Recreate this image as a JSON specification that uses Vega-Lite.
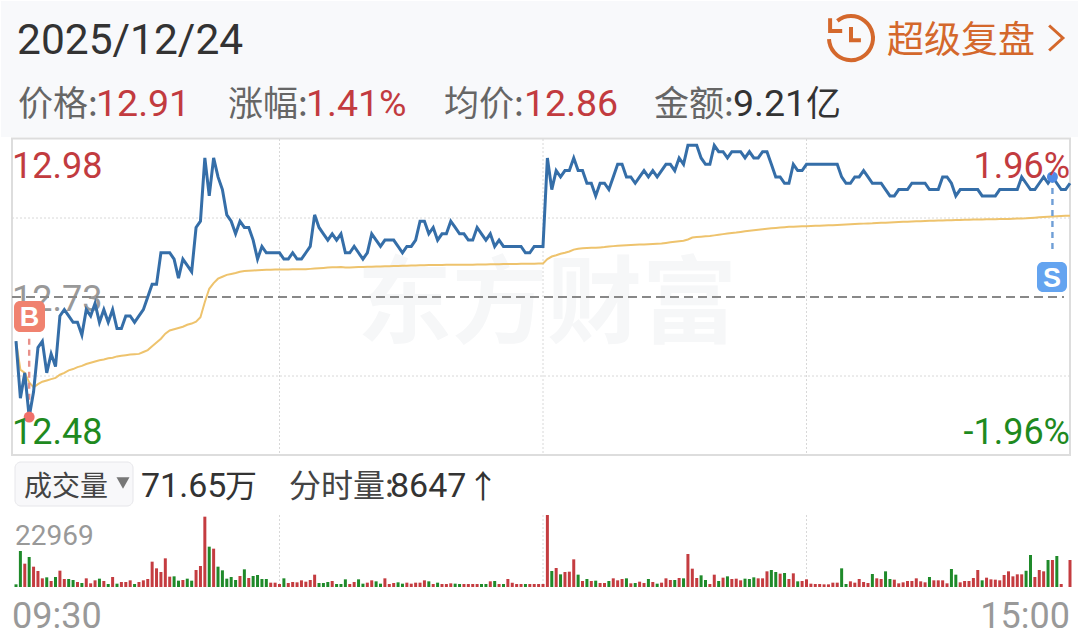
{"$schema":"https://vega.github.io/schema/vega-lite/v6.json","width":1078,"height":644,"padding":0,"autosize":{"type":"fit","contains":"padding"},"background":"#ffffff","config":{"view":{"stroke":null},"text":{"font":"Roboto","align":"left","baseline":"alphabetic"}},
"datasets":{"minutes":[
{"m":0,"price":12.66,"avg":12.66,"vol":851,"dir":"down"},{"m":1,"price":12.57,"avg":12.615,"vol":11484,"dir":"down"},{"m":2,"price":12.61,"avg":12.61,"vol":7443,"dir":"up"},{"m":3,"price":12.54,"avg":12.595,"vol":9570,"dir":"down"},{"m":4,"price":12.58,"avg":12.587,"vol":6486,"dir":"up"},{"m":5,"price":12.65,"avg":12.592,"vol":5104,"dir":"up"},{"m":6,"price":12.66,"avg":12.596,"vol":2765,"dir":"up"},{"m":7,"price":12.61,"avg":12.598,"vol":3084,"dir":"down"},{"m":8,"price":12.64,"avg":12.6,"vol":1914,"dir":"up"},{"m":9,"price":12.62,"avg":12.602,"vol":3190,"dir":"down"},
{"m":10,"price":12.7,"avg":12.607,"vol":5210,"dir":"up"},{"m":11,"price":12.71,"avg":12.61,"vol":2552,"dir":"up"},{"m":12,"price":12.7,"avg":12.614,"vol":2552,"dir":"down"},{"m":13,"price":12.69,"avg":12.616,"vol":2233,"dir":"down"},{"m":14,"price":12.69,"avg":12.619,"vol":1595,"dir":"up"},{"m":15,"price":12.67,"avg":12.621,"vol":1276,"dir":"down"},{"m":16,"price":12.71,"avg":12.624,"vol":2765,"dir":"up"},{"m":17,"price":12.7,"avg":12.626,"vol":1169,"dir":"up"},{"m":18,"price":12.72,"avg":12.628,"vol":2127,"dir":"up"},{"m":19,"price":12.69,"avg":12.63,"vol":2658,"dir":"down"},
{"m":20,"price":12.71,"avg":12.631,"vol":1914,"dir":"up"},{"m":21,"price":12.69,"avg":12.633,"vol":957,"dir":"down"},{"m":22,"price":12.71,"avg":12.634,"vol":3190,"dir":"up"},{"m":23,"price":12.68,"avg":12.636,"vol":1063,"dir":"down"},{"m":24,"price":12.68,"avg":12.637,"vol":1595,"dir":"up"},{"m":25,"price":12.7,"avg":12.638,"vol":1595,"dir":"up"},{"m":26,"price":12.7,"avg":12.639,"vol":2127,"dir":"up"},{"m":27,"price":12.69,"avg":12.6395,"vol":957,"dir":"down"},{"m":28,"price":12.7,"avg":12.64,"vol":1595,"dir":"up"},{"m":29,"price":12.71,"avg":12.643,"vol":2127,"dir":"up"},
{"m":30,"price":12.73,"avg":12.646,"vol":2552,"dir":"up"},{"m":31,"price":12.75,"avg":12.652,"vol":8081,"dir":"up"},{"m":32,"price":12.75,"avg":12.658,"vol":5955,"dir":"up"},{"m":33,"price":12.8,"avg":12.664,"vol":4785,"dir":"up"},{"m":34,"price":12.8,"avg":12.672,"vol":9144,"dir":"up"},{"m":35,"price":12.8,"avg":12.677,"vol":3296,"dir":"up"},{"m":36,"price":12.79,"avg":12.679,"vol":3403,"dir":"down"},{"m":37,"price":12.76,"avg":12.681,"vol":2020,"dir":"down"},{"m":38,"price":12.79,"avg":12.683,"vol":2233,"dir":"up"},{"m":39,"price":12.78,"avg":12.686,"vol":2658,"dir":"down"},
{"m":40,"price":12.77,"avg":12.688,"vol":2020,"dir":"down"},{"m":41,"price":12.84,"avg":12.691,"vol":5423,"dir":"up"},{"m":42,"price":12.85,"avg":12.698,"vol":6699,"dir":"up"},{"m":43,"price":12.95,"avg":12.722,"vol":22437,"dir":"up"},{"m":44,"price":12.89,"avg":12.743,"vol":12866,"dir":"down"},{"m":45,"price":12.95,"avg":12.752,"vol":12229,"dir":"up"},{"m":46,"price":12.92,"avg":12.759,"vol":6486,"dir":"down"},{"m":47,"price":12.9,"avg":12.762,"vol":5317,"dir":"down"},{"m":48,"price":12.86,"avg":12.765,"vol":2658,"dir":"down"},{"m":49,"price":12.85,"avg":12.7665,"vol":3190,"dir":"down"},
{"m":50,"price":12.83,"avg":12.768,"vol":2233,"dir":"down"},{"m":51,"price":12.85,"avg":12.77,"vol":3509,"dir":"up"},{"m":52,"price":12.84,"avg":12.771,"vol":5636,"dir":"down"},{"m":53,"price":12.84,"avg":12.7715,"vol":2871,"dir":"up"},{"m":54,"price":12.82,"avg":12.772,"vol":3509,"dir":"down"},{"m":55,"price":12.79,"avg":12.7725,"vol":3828,"dir":"down"},{"m":56,"price":12.81,"avg":12.7728,"vol":2552,"dir":"down"},{"m":57,"price":12.8,"avg":12.773,"vol":2552,"dir":"down"},{"m":58,"price":12.8,"avg":12.7732,"vol":1382,"dir":"up"},{"m":59,"price":12.8,"avg":12.7734,"vol":1382,"dir":"up"},
{"m":60,"price":12.8,"avg":12.7735,"vol":957,"dir":"up"},{"m":61,"price":12.79,"avg":12.7736,"vol":2765,"dir":"down"},{"m":62,"price":12.79,"avg":12.7737,"vol":1276,"dir":"up"},{"m":63,"price":12.8,"avg":12.7738,"vol":1595,"dir":"up"},{"m":64,"price":12.79,"avg":12.7739,"vol":1489,"dir":"up"},{"m":65,"price":12.79,"avg":12.774,"vol":2127,"dir":"up"},{"m":66,"price":12.8,"avg":12.774,"vol":1701,"dir":"up"},{"m":67,"price":12.81,"avg":12.7745,"vol":2233,"dir":"up"},{"m":68,"price":12.86,"avg":12.775,"vol":3934,"dir":"up"},{"m":69,"price":12.84,"avg":12.7755,"vol":1276,"dir":"down"},
{"m":70,"price":12.83,"avg":12.776,"vol":1276,"dir":"down"},{"m":71,"price":12.82,"avg":12.7765,"vol":1595,"dir":"down"},{"m":72,"price":12.83,"avg":12.777,"vol":1914,"dir":"up"},{"m":73,"price":12.82,"avg":12.7772,"vol":957,"dir":"down"},{"m":74,"price":12.83,"avg":12.7774,"vol":957,"dir":"down"},{"m":75,"price":12.8,"avg":12.7765,"vol":2446,"dir":"down"},{"m":76,"price":12.8,"avg":12.7768,"vol":957,"dir":"up"},{"m":77,"price":12.81,"avg":12.777,"vol":1595,"dir":"up"},{"m":78,"price":12.8,"avg":12.7773,"vol":2446,"dir":"down"},{"m":79,"price":12.79,"avg":12.7775,"vol":1063,"dir":"down"},
{"m":80,"price":12.8,"avg":12.7778,"vol":1382,"dir":"up"},{"m":81,"price":12.83,"avg":12.778,"vol":2127,"dir":"up"},{"m":82,"price":12.82,"avg":12.7782,"vol":1808,"dir":"down"},{"m":83,"price":12.81,"avg":12.7784,"vol":1063,"dir":"down"},{"m":84,"price":12.82,"avg":12.7786,"vol":2765,"dir":"up"},{"m":85,"price":12.82,"avg":12.7788,"vol":957,"dir":"up"},{"m":86,"price":12.82,"avg":12.779,"vol":1276,"dir":"up"},{"m":87,"price":12.81,"avg":12.7792,"vol":1489,"dir":"down"},{"m":88,"price":12.8,"avg":12.7794,"vol":1063,"dir":"down"},{"m":89,"price":12.81,"avg":12.7796,"vol":1382,"dir":"up"},
{"m":90,"price":12.81,"avg":12.7798,"vol":1063,"dir":"up"},{"m":91,"price":12.82,"avg":12.78,"vol":1382,"dir":"up"},{"m":92,"price":12.85,"avg":12.7802,"vol":1382,"dir":"up"},{"m":93,"price":12.85,"avg":12.7804,"vol":2127,"dir":"up"},{"m":94,"price":12.83,"avg":12.7805,"vol":1808,"dir":"down"},{"m":95,"price":12.84,"avg":12.7806,"vol":957,"dir":"up"},{"m":96,"price":12.82,"avg":12.7807,"vol":1382,"dir":"down"},{"m":97,"price":12.83,"avg":12.7808,"vol":957,"dir":"up"},{"m":98,"price":12.83,"avg":12.7809,"vol":957,"dir":"up"},{"m":99,"price":12.85,"avg":12.781,"vol":1169,"dir":"up"},
{"m":100,"price":12.84,"avg":12.781,"vol":1063,"dir":"down"},{"m":101,"price":12.83,"avg":12.781,"vol":957,"dir":"down"},{"m":102,"price":12.83,"avg":12.781,"vol":957,"dir":"up"},{"m":103,"price":12.82,"avg":12.7811,"vol":957,"dir":"up"},{"m":104,"price":12.82,"avg":12.7812,"vol":957,"dir":"up"},{"m":105,"price":12.84,"avg":12.7813,"vol":957,"dir":"up"},{"m":106,"price":12.83,"avg":12.7814,"vol":957,"dir":"down"},{"m":107,"price":12.82,"avg":12.7815,"vol":957,"dir":"down"},{"m":108,"price":12.83,"avg":12.7817,"vol":1808,"dir":"up"},{"m":109,"price":12.81,"avg":12.7819,"vol":1914,"dir":"down"},
{"m":110,"price":12.82,"avg":12.782,"vol":957,"dir":"up"},{"m":111,"price":12.81,"avg":12.7821,"vol":957,"dir":"down"},{"m":112,"price":12.81,"avg":12.7822,"vol":2552,"dir":"up"},{"m":113,"price":12.81,"avg":12.7823,"vol":1382,"dir":"up"},{"m":114,"price":12.81,"avg":12.7824,"vol":957,"dir":"up"},{"m":115,"price":12.81,"avg":12.7825,"vol":957,"dir":"up"},{"m":116,"price":12.8,"avg":12.7826,"vol":957,"dir":"down"},{"m":117,"price":12.8,"avg":12.7827,"vol":957,"dir":"up"},{"m":118,"price":12.81,"avg":12.7828,"vol":957,"dir":"up"},{"m":119,"price":12.81,"avg":12.7829,"vol":957,"dir":"up"},
{"m":120,"price":12.81,"avg":12.783,"vol":957,"dir":"up"},{"m":121,"price":12.95,"avg":12.79,"vol":22969,"dir":"up"},{"m":122,"price":12.9,"avg":12.794,"vol":5104,"dir":"down"},{"m":123,"price":12.93,"avg":12.796,"vol":6061,"dir":"up"},{"m":124,"price":12.92,"avg":12.7985,"vol":4041,"dir":"down"},{"m":125,"price":12.93,"avg":12.8,"vol":4785,"dir":"up"},{"m":126,"price":12.93,"avg":12.802,"vol":4891,"dir":"up"},{"m":127,"price":12.95,"avg":12.805,"vol":8826,"dir":"up"},{"m":128,"price":12.93,"avg":12.8065,"vol":3934,"dir":"down"},{"m":129,"price":12.93,"avg":12.8072,"vol":1914,"dir":"up"},
{"m":130,"price":12.91,"avg":12.8075,"vol":2552,"dir":"down"},{"m":131,"price":12.91,"avg":12.8078,"vol":1914,"dir":"up"},{"m":132,"price":12.89,"avg":12.808,"vol":2020,"dir":"down"},{"m":133,"price":12.91,"avg":12.8085,"vol":1276,"dir":"up"},{"m":134,"price":12.91,"avg":12.809,"vol":1276,"dir":"up"},{"m":135,"price":12.9,"avg":12.81,"vol":1914,"dir":"down"},{"m":136,"price":12.92,"avg":12.8105,"vol":2765,"dir":"up"},{"m":137,"price":12.94,"avg":12.811,"vol":2127,"dir":"up"},{"m":138,"price":12.94,"avg":12.8115,"vol":2552,"dir":"up"},{"m":139,"price":12.92,"avg":12.812,"vol":2765,"dir":"down"},
{"m":140,"price":12.92,"avg":12.8123,"vol":1169,"dir":"up"},{"m":141,"price":12.91,"avg":12.8126,"vol":1276,"dir":"down"},{"m":142,"price":12.92,"avg":12.8129,"vol":1701,"dir":"up"},{"m":143,"price":12.93,"avg":12.8132,"vol":1276,"dir":"up"},{"m":144,"price":12.92,"avg":12.8135,"vol":2552,"dir":"down"},{"m":145,"price":12.93,"avg":12.8138,"vol":1595,"dir":"up"},{"m":146,"price":12.92,"avg":12.8141,"vol":1063,"dir":"down"},{"m":147,"price":12.93,"avg":12.8145,"vol":1382,"dir":"up"},{"m":148,"price":12.94,"avg":12.8155,"vol":2765,"dir":"up"},{"m":149,"price":12.94,"avg":12.8165,"vol":2233,"dir":"up"},
{"m":150,"price":12.93,"avg":12.8175,"vol":2233,"dir":"down"},{"m":151,"price":12.95,"avg":12.8182,"vol":2871,"dir":"up"},{"m":152,"price":12.94,"avg":12.819,"vol":2765,"dir":"down"},{"m":153,"price":12.97,"avg":12.821,"vol":10527,"dir":"up"},{"m":154,"price":12.97,"avg":12.824,"vol":5848,"dir":"up"},{"m":155,"price":12.97,"avg":12.825,"vol":2871,"dir":"up"},{"m":156,"price":12.95,"avg":12.8255,"vol":3722,"dir":"down"},{"m":157,"price":12.94,"avg":12.826,"vol":2233,"dir":"down"},{"m":158,"price":12.94,"avg":12.8265,"vol":957,"dir":"up"},{"m":159,"price":12.97,"avg":12.8275,"vol":3934,"dir":"up"},
{"m":160,"price":12.96,"avg":12.8285,"vol":1914,"dir":"down"},{"m":161,"price":12.96,"avg":12.8295,"vol":2977,"dir":"up"},{"m":162,"price":12.95,"avg":12.8305,"vol":3403,"dir":"down"},{"m":163,"price":12.96,"avg":12.8312,"vol":2552,"dir":"up"},{"m":164,"price":12.96,"avg":12.832,"vol":2658,"dir":"up"},{"m":165,"price":12.96,"avg":12.833,"vol":2127,"dir":"up"},{"m":166,"price":12.95,"avg":12.834,"vol":2658,"dir":"down"},{"m":167,"price":12.96,"avg":12.8347,"vol":2552,"dir":"down"},{"m":168,"price":12.95,"avg":12.8355,"vol":3084,"dir":"down"},{"m":169,"price":12.95,"avg":12.8363,"vol":2765,"dir":"up"},
{"m":170,"price":12.96,"avg":12.8371,"vol":2765,"dir":"up"},{"m":171,"price":12.96,"avg":12.8379,"vol":4998,"dir":"up"},{"m":172,"price":12.94,"avg":12.8387,"vol":5423,"dir":"down"},{"m":173,"price":12.92,"avg":12.8393,"vol":4785,"dir":"down"},{"m":174,"price":12.92,"avg":12.8399,"vol":4253,"dir":"up"},{"m":175,"price":12.91,"avg":12.8405,"vol":4466,"dir":"down"},{"m":176,"price":12.91,"avg":12.841,"vol":2552,"dir":"up"},{"m":177,"price":12.94,"avg":12.8413,"vol":4360,"dir":"up"},{"m":178,"price":12.93,"avg":12.8415,"vol":1808,"dir":"down"},{"m":179,"price":12.93,"avg":12.8418,"vol":1914,"dir":"up"},
{"m":180,"price":12.94,"avg":12.842,"vol":2446,"dir":"up"},{"m":181,"price":12.94,"avg":12.8423,"vol":1063,"dir":"up"},{"m":182,"price":12.94,"avg":12.8426,"vol":957,"dir":"up"},{"m":183,"price":12.94,"avg":12.8429,"vol":957,"dir":"up"},{"m":184,"price":12.94,"avg":12.8431,"vol":851,"dir":"up"},{"m":185,"price":12.94,"avg":12.8434,"vol":851,"dir":"up"},{"m":186,"price":12.94,"avg":12.8437,"vol":1382,"dir":"up"},{"m":187,"price":12.94,"avg":12.844,"vol":1382,"dir":"up"},{"m":188,"price":12.92,"avg":12.8444,"vol":5955,"dir":"down"},{"m":189,"price":12.91,"avg":12.8448,"vol":957,"dir":"down"},
{"m":190,"price":12.91,"avg":12.8451,"vol":1808,"dir":"up"},{"m":191,"price":12.92,"avg":12.8455,"vol":1382,"dir":"up"},{"m":192,"price":12.92,"avg":12.8458,"vol":2552,"dir":"up"},{"m":193,"price":12.93,"avg":12.8461,"vol":1595,"dir":"up"},{"m":194,"price":12.92,"avg":12.8464,"vol":1276,"dir":"up"},{"m":195,"price":12.91,"avg":12.8466,"vol":4147,"dir":"down"},{"m":196,"price":12.91,"avg":12.847,"vol":2765,"dir":"up"},{"m":197,"price":12.91,"avg":12.8473,"vol":2552,"dir":"up"},{"m":198,"price":12.9,"avg":12.8476,"vol":4998,"dir":"down"},{"m":199,"price":12.89,"avg":12.848,"vol":2552,"dir":"down"},
{"m":200,"price":12.89,"avg":12.8483,"vol":2339,"dir":"up"},{"m":201,"price":12.9,"avg":12.8487,"vol":1169,"dir":"up"},{"m":202,"price":12.9,"avg":12.849,"vol":1489,"dir":"up"},{"m":203,"price":12.9,"avg":12.8492,"vol":1914,"dir":"up"},{"m":204,"price":12.91,"avg":12.8495,"vol":1914,"dir":"up"},{"m":205,"price":12.91,"avg":12.8497,"vol":2765,"dir":"up"},{"m":206,"price":12.91,"avg":12.85,"vol":1808,"dir":"up"},{"m":207,"price":12.91,"avg":12.8503,"vol":1489,"dir":"up"},{"m":208,"price":12.9,"avg":12.8505,"vol":3190,"dir":"down"},{"m":209,"price":12.9,"avg":12.8508,"vol":2127,"dir":"up"},
{"m":210,"price":12.9,"avg":12.851,"vol":2127,"dir":"up"},{"m":211,"price":12.92,"avg":12.8512,"vol":2127,"dir":"up"},{"m":212,"price":12.92,"avg":12.8514,"vol":1169,"dir":"up"},{"m":213,"price":12.91,"avg":12.8516,"vol":5742,"dir":"down"},{"m":214,"price":12.89,"avg":12.8518,"vol":3934,"dir":"down"},{"m":215,"price":12.9,"avg":12.852,"vol":1489,"dir":"up"},{"m":216,"price":12.9,"avg":12.8522,"vol":1914,"dir":"up"},{"m":217,"price":12.9,"avg":12.8524,"vol":1914,"dir":"up"},{"m":218,"price":12.9,"avg":12.8525,"vol":2871,"dir":"up"},{"m":219,"price":12.9,"avg":12.8526,"vol":5423,"dir":"up"},
{"m":220,"price":12.89,"avg":12.8528,"vol":2127,"dir":"down"},{"m":221,"price":12.89,"avg":12.8529,"vol":2977,"dir":"up"},{"m":222,"price":12.89,"avg":12.853,"vol":2446,"dir":"up"},{"m":223,"price":12.89,"avg":12.8532,"vol":2339,"dir":"up"},{"m":224,"price":12.9,"avg":12.8533,"vol":2127,"dir":"up"},{"m":225,"price":12.9,"avg":12.8534,"vol":3828,"dir":"up"},{"m":226,"price":12.9,"avg":12.8536,"vol":4998,"dir":"up"},{"m":227,"price":12.9,"avg":12.8538,"vol":3403,"dir":"up"},{"m":228,"price":12.9,"avg":12.8541,"vol":4041,"dir":"up"},{"m":229,"price":12.92,"avg":12.8543,"vol":4041,"dir":"up"},
{"m":230,"price":12.91,"avg":12.8545,"vol":5210,"dir":"down"},{"m":231,"price":12.9,"avg":12.855,"vol":10208,"dir":"down"},{"m":232,"price":12.9,"avg":12.8555,"vol":3190,"dir":"up"},{"m":233,"price":12.91,"avg":12.856,"vol":5423,"dir":"up"},{"m":234,"price":12.92,"avg":12.8565,"vol":4998,"dir":"up"},{"m":235,"price":12.91,"avg":12.857,"vol":8613,"dir":"down"},{"m":236,"price":12.92,"avg":12.8574,"vol":8613,"dir":"up"},{"m":237,"price":12.91,"avg":12.8578,"vol":9889,"dir":"down"},{"m":238,"price":12.9,"avg":12.8581,"vol":957,"dir":"up"},{"m":239,"price":12.9,"avg":12.8584,"vol":0,"dir":"up"},{"m":240,"price":12.91,"avg":12.8587,"vol":8613,"dir":"up"}
]},
"data":{"name":"minutes"},
"resolve":{"scale":{"y":"independent","x":"shared"}},
"layer":[
{"mark":{"type":"rect","x":0,"x2":1078,"y":0,"y2":136,"fill":"#f8f9fb"},"data":{"values":[{"part":"header"}]},"encoding":{}},
{"mark":{"type":"rect","x":11,"x2":1069,"y":137.5,"y2":454,"fill":"#ffffff","stroke":"#dddddd","strokeWidth":2},"data":{"values":[{"part":"price panel"}]},"encoding":{}},
{"data":{"values":[{"label":"东方财富"}]},"mark":{"type":"text","x":356,"y":335,"font":"Noto Sans CJK SC","fontWeight":"bold","fontSize":95,"fill":"#f6f7f8"},"encoding":{"text":{"field":"label"}}},
{"data":{"values":[{"price":12.855},{"price":12.605}]},"mark":{"type":"rule","x":11,"x2":1069,"stroke":"#d8d8d8","strokeWidth":1,"strokeDash":[2,2]},"encoding":{"y":{"field":"price","type":"quantitative","axis":null,"scale":{"domain":[12.48,12.98],"range":[454,138]}}}},
{"data":{"values":[{"m":60},{"m":120},{"m":180}]},"mark":{"type":"rule","y":138,"y2":454,"stroke":"#d8d8d8","strokeWidth":1,"strokeDash":[2,2]},"encoding":{"x":{"field":"m","type":"quantitative","axis":null,"scale":{"domain":[0,240],"range":[15,1069],"padding":0}}}},
{"data":{"values":[{"m":60},{"m":120},{"m":180}]},"mark":{"type":"rule","y":514,"y2":586,"stroke":"#d8d8d8","strokeWidth":1,"strokeDash":[2,2]},"encoding":{"x":{"field":"m","type":"quantitative","axis":null,"scale":{"domain":[0,240],"range":[15,1069],"padding":0}}}},
{"data":{"values":[{"label":"12.73"}]},"mark":{"type":"text","x":11,"y":310,"fontSize":36,"fill":"#999999"},"encoding":{"text":{"field":"label"}}},
{"data":{"values":[{"price":12.73}]},"mark":{"type":"rule","x":11,"x2":1063,"stroke":"#888888","strokeWidth":2,"strokeDash":[9,5]},"encoding":{"y":{"field":"price","type":"quantitative","axis":null,"scale":{"domain":[12.48,12.98],"range":[454,138]}}}},
{"mark":{"type":"line","stroke":"#eec36d","strokeWidth":2,"interpolate":"linear"},"encoding":{"x":{"field":"m","type":"quantitative","axis":null,"scale":{"domain":[0,240],"range":[15,1069],"padding":0}},"y":{"field":"avg","type":"quantitative","axis":null,"scale":{"domain":[12.48,12.98],"range":[454,138]}}}},
{"data":{"values":[{"m":3,"from":12.664,"to":12.54}]},"mark":{"type":"rule","stroke":"#e8918a","strokeWidth":2.4,"strokeDash":[6,5]},"encoding":{"x":{"field":"m","type":"quantitative","axis":null,"scale":{"domain":[0,240],"range":[15,1069],"padding":0}},"y":{"field":"from","type":"quantitative","axis":null,"scale":{"domain":[12.48,12.98],"range":[454,138]}},"y2":{"field":"to"}}},
{"data":{"values":[{"m":236,"from":12.92,"to":12.798}]},"mark":{"type":"rule","stroke":"#6f9ed6","strokeWidth":2.4,"strokeDash":[6,5]},"encoding":{"x":{"field":"m","type":"quantitative","axis":null,"scale":{"domain":[0,240],"range":[15,1069],"padding":0}},"y":{"field":"from","type":"quantitative","axis":null,"scale":{"domain":[12.48,12.98],"range":[454,138]}},"y2":{"field":"to"}}},
{"mark":{"type":"line","stroke":"#356ea8","strokeWidth":3,"interpolate":"linear"},"encoding":{"x":{"field":"m","type":"quantitative","axis":null,"scale":{"domain":[0,240],"range":[15,1069],"padding":0}},"y":{"field":"price","type":"quantitative","axis":null,"scale":{"domain":[12.48,12.98],"range":[454,138]}}}},
{"data":{"values":[{"m":3,"price":12.54}]},"mark":{"type":"point","filled":true,"fill":"#f0706a","opacity":1,"size":120},"encoding":{"x":{"field":"m","type":"quantitative","axis":null,"scale":{"domain":[0,240],"range":[15,1069],"padding":0}},"y":{"field":"price","type":"quantitative","axis":null,"scale":{"domain":[12.48,12.98],"range":[454,138]}}}},
{"data":{"values":[{"m":236,"price":12.92}]},"mark":{"type":"point","filled":true,"fill":"#4f8be6","opacity":1,"size":120},"encoding":{"x":{"field":"m","type":"quantitative","axis":null,"scale":{"domain":[0,240],"range":[15,1069],"padding":0}},"y":{"field":"price","type":"quantitative","axis":null,"scale":{"domain":[12.48,12.98],"range":[454,138]}}}},
{"mark":{"type":"rect","x":13,"x2":44,"y":300,"y2":331,"fill":"#f0826f","cornerRadius":6},"data":{"values":[{"part":"B badge"}]},"encoding":{}},
{"data":{"values":[{"label":"B"}]},"mark":{"type":"text","x":28.5,"y":325,"align":"center","fontSize":27,"fontWeight":"bold","font":"Liberation Sans","fill":"#ffffff"},"encoding":{"text":{"field":"label"}}},
{"mark":{"type":"rect","x":1036,"x2":1066,"y":261,"y2":291,"fill":"#64a4f0","cornerRadius":6},"data":{"values":[{"part":"S badge"}]},"encoding":{}},
{"data":{"values":[{"label":"S"}]},"mark":{"type":"text","x":1051,"y":286,"align":"center","fontSize":27,"fontWeight":"bold","font":"Liberation Sans","fill":"#ffffff"},"encoding":{"text":{"field":"label"}}},
{"data":{"values":[{"label":"12.98"}]},"mark":{"type":"text","x":11,"y":177,"fontSize":36,"fill":"#c23b3f"},"encoding":{"text":{"field":"label"}}},
{"data":{"values":[{"label":"12.48"}]},"mark":{"type":"text","x":11,"y":443,"fontSize":36,"fill":"#1f8a1f"},"encoding":{"text":{"field":"label"}}},
{"data":{"values":[{"label":"1.96%"}]},"mark":{"type":"text","x":1069,"y":177,"align":"right","fontSize":36,"fill":"#c23b3f"},"encoding":{"text":{"field":"label"}}},
{"data":{"values":[{"label":"-1.96%"}]},"mark":{"type":"text","x":1069,"y":443,"align":"right","fontSize":36,"fill":"#1f8a1f"},"encoding":{"text":{"field":"label"}}},
{"mark":{"type":"rule","x":11,"x2":1069,"y":514,"stroke":"#dddddd","strokeWidth":2},"data":{"values":[{"part":"volume top"}]},"encoding":{}},
{"mark":{"type":"rule","x":11,"y":514,"y2":586,"stroke":"#dddddd","strokeWidth":2},"data":{"values":[{"part":"volume left"}]},"encoding":{}},
{"mark":{"type":"rule","x":1069,"y":514,"y2":586,"stroke":"#dddddd","strokeWidth":2},"data":{"values":[{"part":"volume right"}]},"encoding":{}},
{"mark":{"type":"bar","size":3,"orient":"vertical"},"encoding":{"x":{"field":"m","type":"quantitative","axis":null,"scale":{"domain":[0,240],"range":[15,1069],"padding":0}},"y":{"field":"vol","type":"quantitative","axis":null,"scale":{"domain":[0,22969],"range":[586,514]}},"color":{"field":"dir","type":"nominal","legend":null,"scale":{"domain":["up","down"],"range":["#c43c40","#1f8a2a"]}}}},
{"data":{"values":[{"label":"22969"}]},"mark":{"type":"text","x":14,"y":544,"fontSize":28,"fill":"#999999"},"encoding":{"text":{"field":"label"}}},
{"data":{"values":[{"label":"09:30"}]},"mark":{"type":"text","x":11,"y":627,"fontSize":36,"fill":"#999999"},"encoding":{"text":{"field":"label"}}},
{"data":{"values":[{"label":"15:00"}]},"mark":{"type":"text","x":1069,"y":627,"align":"right","fontSize":36,"fill":"#999999"},"encoding":{"text":{"field":"label"}}},
{"data":{"values":[{"label":"2025/12/24"}]},"mark":{"type":"text","x":16,"y":53,"fontSize":42.5,"fill":"#333333"},"encoding":{"text":{"field":"label"}}},
{"data":{"values":[{"label":"价格:"}]},"mark":{"type":"text","x":17,"y":115,"font":"Noto Sans CJK SC","fontSize":35,"fill":"#666666"},"encoding":{"text":{"field":"label"}}},
{"data":{"values":[{"label":"12.91"}]},"mark":{"type":"text","x":95,"y":115,"fontSize":37.5,"fill":"#c23b3f"},"encoding":{"text":{"field":"label"}}},
{"data":{"values":[{"label":"涨幅:"}]},"mark":{"type":"text","x":227,"y":115,"font":"Noto Sans CJK SC","fontSize":35,"fill":"#666666"},"encoding":{"text":{"field":"label"}}},
{"data":{"values":[{"label":"1.41%"}]},"mark":{"type":"text","x":305,"y":115,"fontSize":37.5,"fill":"#c23b3f"},"encoding":{"text":{"field":"label"}}},
{"data":{"values":[{"label":"均价:"}]},"mark":{"type":"text","x":443,"y":115,"font":"Noto Sans CJK SC","fontSize":35,"fill":"#666666"},"encoding":{"text":{"field":"label"}}},
{"data":{"values":[{"label":"12.86"}]},"mark":{"type":"text","x":523,"y":115,"fontSize":37.5,"fill":"#c23b3f"},"encoding":{"text":{"field":"label"}}},
{"data":{"values":[{"label":"金额:"}]},"mark":{"type":"text","x":653,"y":115,"font":"Noto Sans CJK SC","fontSize":35,"fill":"#666666"},"encoding":{"text":{"field":"label"}}},
{"data":{"values":[{"label":"9.21"}]},"mark":{"type":"text","x":732,"y":115,"fontSize":37.5,"fill":"#333333"},"encoding":{"text":{"field":"label"}}},
{"data":{"values":[{"label":"亿"}]},"mark":{"type":"text","x":805,"y":115,"font":"Noto Sans CJK SC","fontSize":35,"fill":"#333333"},"encoding":{"text":{"field":"label"}}},
{"data":{"values":[{"label":"超级复盘"}]},"mark":{"type":"text","x":886,"y":52,"font":"Noto Sans CJK SC","fontSize":37,"fill":"#d4682c"},"encoding":{"text":{"field":"label"}}},
{"data":{"values":[{"part":"history icon"}]},"mark":{"type":"point","x":850,"y":37,"filled":false,"opacity":1,"stroke":"#d4682c","strokeWidth":4,"size":1936,"shape":"M-0.62,-0.78A1,1,0,1,1,-1,0.05M-0.95,-0.9L-0.95,-0.32L-0.4,-0.32M0,-0.5L0,0.1L0.45,0.1"},"encoding":{}},
{"data":{"values":[{"part":"chevron"}]},"mark":{"type":"point","x":1055,"y":37,"filled":false,"opacity":1,"stroke":"#d4682c","strokeWidth":3,"size":625,"shape":"M-0.55,-1L0.55,0L-0.55,1"},"encoding":{}},
{"mark":{"type":"rect","x":14,"x2":132,"y":461,"y2":505,"fill":"#f8f8fa","stroke":"#e6e6ea","strokeWidth":1,"cornerRadius":6},"data":{"values":[{"part":"dropdown"}]},"encoding":{}},
{"data":{"values":[{"label":"成交量"}]},"mark":{"type":"text","x":23,"y":495,"font":"Noto Sans CJK SC","fontSize":28,"fill":"#444444"},"encoding":{"text":{"field":"label"}}},
{"data":{"values":[{"part":"dropdown arrow"}]},"mark":{"type":"point","x":122,"y":482,"shape":"triangle-down","filled":true,"fill":"#777777","opacity":1,"size":170},"encoding":{}},
{"data":{"values":[{"label":"71.65"}]},"mark":{"type":"text","x":140,"y":496,"fontSize":34,"fill":"#333333"},"encoding":{"text":{"field":"label"}}},
{"data":{"values":[{"label":"万"}]},"mark":{"type":"text","x":224,"y":496,"font":"Noto Sans CJK SC","fontSize":32,"fill":"#333333"},"encoding":{"text":{"field":"label"}}},
{"data":{"values":[{"label":"分时量:"}]},"mark":{"type":"text","x":288,"y":496,"font":"Noto Sans CJK SC","fontSize":32,"fill":"#444444"},"encoding":{"text":{"field":"label"}}},
{"data":{"values":[{"label":"8647"}]},"mark":{"type":"text","x":389,"y":496,"fontSize":34,"fill":"#333333"},"encoding":{"text":{"field":"label"}}},
{"data":{"values":[{"label":"↑"}]},"mark":{"type":"text","x":466,"y":497,"font":"Noto Sans CJK SC","fontSize":32,"fill":"#333333"},"encoding":{"text":{"field":"label"}}}
]}
